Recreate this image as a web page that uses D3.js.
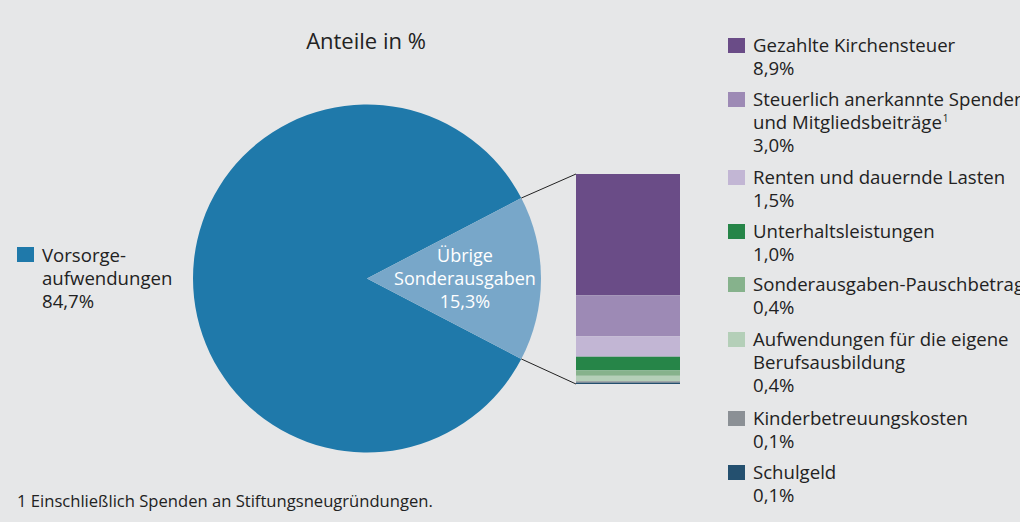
<!DOCTYPE html>
<html><head><meta charset="utf-8">
<script src="https://cdn.jsdelivr.net/npm/d3@7"></script>
<style>
html,body{margin:0;padding:0;background:#e6e7e8;}
svg{display:block;font-family:"Open Sans","Noto Sans",sans-serif;}
</style></head><body>
<svg id="c" width="1020" height="522"></svg>
<script>
const title = "Anteile in %";
const pieLabels = ["Vorsorgeaufwendungen", "Übrige Sonderausgaben"];
const pieValues = [84.7, 15.3];
const pieColors = ["#1f79aa", "#78a7c9"];
const barCategories = ["Gezahlte Kirchensteuer","Steuerlich anerkannte Spenden und Mitgliedsbeiträge","Renten und dauernde Lasten","Unterhaltsleistungen","Sonderausgaben-Pauschbetrag","Aufwendungen für die eigene Berufsausbildung","Kinderbetreuungskosten","Schulgeld"];
const barValues = [8.9, 3.0, 1.5, 1.0, 0.4, 0.4, 0.1, 0.1];
const barColors = ["#6a4c87","#9d8ab5","#c2b6d4","#268548","#86b28c","#b4cfb8","#8b9095","#24506f"];
const legendLines = [
  ["Gezahlte Kirchensteuer","8,9%"],
  ["Steuerlich anerkannte Spenden","und Mitgliedsbeiträge¹","3,0%"],
  ["Renten und dauernde Lasten","1,5%"],
  ["Unterhaltsleistungen","1,0%"],
  ["Sonderausgaben-Pauschbetrag","0,4%"],
  ["Aufwendungen für die eigene","Berufsausbildung","0,4%"],
  ["Kinderbetreuungskosten","0,1%"],
  ["Schulgeld","0,1%"]
];
const footnote = "1 Einschließlich Spenden an Stiftungsneugründungen.";

const svg = d3.select("#c");
const fs = 18.6, lh = 23;
const cx = 367, cy = 278.5, r = 174;

svg.append("text").attr("x", 366).attr("y", 49).attr("text-anchor","middle")
  .attr("font-size", 22).attr("fill","#222").text(title);

// pie
const total = d3.sum(pieValues);
const smallAngle = pieValues[1] / total * 2 * Math.PI;
const start = Math.PI/2 + smallAngle/2;
const pie = d3.pie().sort(null).startAngle(start).endAngle(start + 2*Math.PI);
const arcs = pie(pieValues);
const arc = d3.arc().innerRadius(0).outerRadius(r);
const g = svg.append("g").attr("transform", `translate(${cx},${cy})`);
g.selectAll("path").data(arcs).enter().append("path")
  .attr("d", arc).attr("fill", (d,i) => pieColors[i]);

// bar
const barX0 = 576, barX1 = 680, barY0 = 174, barY1 = 384;
const y = d3.scaleLinear().domain([0, d3.sum(barValues)]).range([barY0, barY1]);
const cum = barValues.map((v,i) => d3.sum(barValues.slice(0,i)));
svg.selectAll("rect.bar").data(barValues).enter().append("rect").attr("class","bar")
  .attr("x", barX0).attr("width", barX1 - barX0)
  .attr("y", (d,i) => y(cum[i])).attr("height", d => y(d) - y(0))
  .attr("fill", (d,i) => barColors[i]);

// connectors
const a1 = arcs[1];
const pt = a => [cx + r*Math.sin(a), cy - r*Math.cos(a)];
const pTop = pt(a1.startAngle), pBot = pt(a1.endAngle);
svg.append("line").attr("x1", pTop[0]).attr("y1", pTop[1]).attr("x2", barX0).attr("y2", y(0))
  .attr("stroke","#222").attr("stroke-width",1);
svg.append("line").attr("x1", pBot[0]).attr("y1", pBot[1]).attr("x2", barX0).attr("y2", y(d3.sum(barValues)))
  .attr("stroke","#222").attr("stroke-width",1);

// pie inner label
const inner = svg.append("text").attr("text-anchor","middle").attr("fill","#fff").attr("font-size", 18);
["Übrige","Sonderausgaben","15,3%"].forEach((t,i) => {
  inner.append("tspan").attr("x", 465).attr("y", 262 + i*lh).text(t);
});

// left legend
svg.append("rect").attr("x",17).attr("y",247).attr("width",17).attr("height",15).attr("fill",pieColors[0]);
const lt = svg.append("text").attr("font-size", fs).attr("fill","#222");
["Vorsorge-","aufwendungen","84,7%"].forEach((t,i) => {
  lt.append("tspan").attr("x", 42).attr("y", 262 + i*lh).text(t);
});

// right legend
const startY = [52, 106, 184, 238, 291, 346, 425, 479];
legendLines.forEach((lines, k) => {
  svg.append("rect").attr("x",728).attr("y",startY[k]-14).attr("width",17).attr("height",15).attr("fill",barColors[k]);
  const t = svg.append("text").attr("font-size", fs).attr("fill","#222");
  lines.forEach((s,i) => {
    const ts = t.append("tspan").attr("x", 753).attr("y", startY[k] + i*lh);
    if (s.endsWith("¹")) {
      ts.text(s.slice(0,-1));
      t.append("tspan").attr("dy", -7).attr("dx", 1).attr("font-size", 10).text("1");
    } else ts.text(s);
  });
});

svg.append("text").attr("x",17).attr("y",507).attr("font-size",16.6).attr("fill","#222").text(footnote);
</script>
</body></html>
